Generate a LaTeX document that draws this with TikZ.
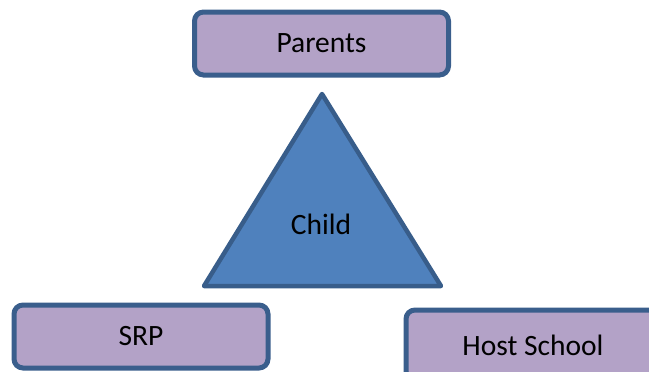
\documentclass[tikz,border=0pt]{standalone}
\usepackage{fontspec}
\setmainfont{Carlito}
\definecolor{boxfill}{HTML}{B3A2C7}
\definecolor{boxline}{HTML}{3A5E8C}
\definecolor{trifill}{HTML}{4F81BD}
\definecolor{triline}{HTML}{385D8A}
\begin{document}
\begin{tikzpicture}[x=1pt,y=-1pt,
  rolebox/.style={draw=boxline, fill=boxfill, line width=5pt, rounded corners=9pt,
    minimum width=254pt, inner sep=0pt, font=\fontsize{29.5}{35}\selectfont},
  labeltext/.style={font=\fontsize{29.5}{35}\selectfont, inner sep=0pt}]
\useasboundingbox (0,0) rectangle (649,372);
\clip (0,0) rectangle (649,372);
\node[rolebox, minimum height=63pt] (parents) at (321.5,43.5) {Parents};
\node[rolebox, minimum height=63pt] (srp) at (141,336.5) {SRP};
\node[rolebox, minimum height=70pt] (host) at (533,345) {Host School};
\coordinate (apex) at (322,94);
\coordinate (bl) at (204,286);
\coordinate (br) at (441,286);
\draw[draw=triline, fill=trifill, line width=4.5pt, line join=round] (apex) -- (br) -- (bl) -- cycle;
\node[labeltext] (child) at (321,224) {Child};
\end{tikzpicture}
\end{document}
